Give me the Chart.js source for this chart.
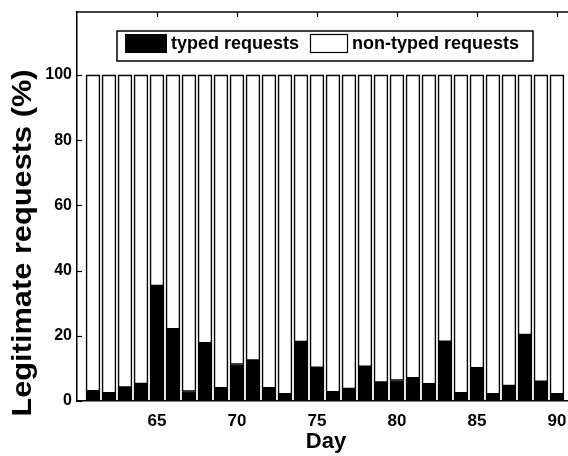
<!DOCTYPE html>
<html>
<head>
<meta charset="utf-8">
<script src="https://cdn.jsdelivr.net/npm/chart.js@4/dist/chart.umd.min.js"></script>
<style>
html,body{margin:0;padding:0;background:#fff;}
canvas{display:block;}
</style>
</head>
<body>
<canvas id="c" width="568" height="456"></canvas>
<script>
const days = [61,62,63,64,65,66,67,68,69,70,71,72,73,74,75,76,77,78,79,80,81,82,83,84,85,86,87,88,89,90];
const typed = [3.0,2.4,4.1,5.2,35.3,22.0,2.9,17.7,3.9,11.2,12.4,3.9,2.1,18.1,10.2,2.7,3.7,10.5,5.7,6.3,7.0,5.1,18.2,2.4,10.0,2.1,4.6,20.2,5.9,2.1];
const nonTyped = [97.0,97.6,95.9,94.8,64.7,78.0,97.1,82.3,96.1,88.8,87.6,96.1,97.9,81.9,89.8,97.3,96.3,89.5,94.3,93.7,93.0,94.9,81.8,97.6,90.0,97.9,95.4,79.8,94.1,97.9];
const xTicks = [65,70,75,80,85,90];
const yTicks = [0,20,40,60,80,100];
const seriesNames = ['typed requests','non-typed requests'];
const xTitle = 'Day';
const yTitle = 'Legitimate requests (%)';

const FONT = '"Liberation Sans", Arial, Helvetica, sans-serif';

const decor = {
  id: 'decor',
  afterDraw(chart) {
    const ctx = chart.ctx;
    const a = chart.chartArea;
    const xs = chart.scales.x, ys = chart.scales.y;
    ctx.save();
    ctx.strokeStyle = '#000';
    ctx.lineWidth = 1.5;
    ctx.beginPath();
    ctx.moveTo(a.left, a.top); ctx.lineTo(a.right, a.top);
    ctx.stroke();
    ctx.lineWidth = 1.2;
    xTicks.forEach(v => {
      const px = Math.round(xs.getPixelForValue(v)) + 0.5;
      ctx.beginPath();
      ctx.moveTo(px, a.top); ctx.lineTo(px, a.top + 5);
      ctx.moveTo(px, a.bottom); ctx.lineTo(px, a.bottom - 5);
      ctx.stroke();
    });
    yTicks.forEach(v => {
      const py = Math.round(ys.getPixelForValue(v)) + 0.5;
      ctx.beginPath();
      ctx.moveTo(a.left, py); ctx.lineTo(a.left + 5, py);
      ctx.stroke();
    });
    // legend
    const lx = 117, ly = 31, lw = 416, lh = 30;
    ctx.fillStyle = '#fff';
    ctx.fillRect(lx, ly, lw, lh);
    ctx.lineWidth = 1.5;
    ctx.strokeRect(lx, ly, lw, lh);
    ctx.fillStyle = '#000';
    ctx.fillRect(125, 34, 42, 19);
    ctx.lineWidth = 1.2;
    ctx.strokeRect(310.5, 34.5, 37, 18);
    ctx.font = 'bold 18px ' + FONT;
    ctx.textBaseline = 'middle';
    ctx.textAlign = 'left';
    ctx.fillText(chart.data.datasets[0].label, 171, 44);
    ctx.fillText(chart.data.datasets[1].label, 352, 44);
    // axis titles
    ctx.font = 'bold 22px ' + FONT;
    ctx.textAlign = 'center';
    ctx.textBaseline = 'alphabetic';
    ctx.fillText(xTitle, 326, 448);
    ctx.save();
    ctx.translate(31, 243);
    ctx.rotate(-Math.PI / 2);
    ctx.scale(1.14, 1);
    ctx.font = 'bold 27px ' + FONT;
    ctx.fillText(yTitle, 0, 0);
    ctx.restore();
    ctx.restore();
  }
};

new Chart(document.getElementById('c'), {
  type: 'bar',
  data: {
    datasets: [
      {
        label: seriesNames[0],
        data: days.map((d, i) => ({x: d, y: typed[i]})),
        backgroundColor: '#000',
        borderColor: '#000',
        borderWidth: 1,
        borderSkipped: false,
        barThickness: 14
      },
      {
        label: seriesNames[1],
        data: days.map((d, i) => ({x: d, y: nonTyped[i]})),
        backgroundColor: '#fff',
        borderColor: '#000',
        borderWidth: 1.6,
        borderSkipped: false,
        barThickness: 14
      }
    ]
  },
  plugins: [decor],
  options: {
    responsive: false,
    animation: false,
    devicePixelRatio: 1,
    layout: {padding: {left: 0, right: 0, top: 12, bottom: 0}},
    plugins: {legend: {display: false}, tooltip: {enabled: false}},
    scales: {
      x: {
        type: 'linear',
        stacked: true,
        min: 60,
        max: 90.69,
        offset: false,
        afterBuildTicks: s => { s.ticks = xTicks.map(v => ({value: v})); },
        afterFit: s => { s.height = 55; s.paddingRight = 0; s.paddingLeft = 0; },
        grid: {display: false, drawTicks: false},
        border: {display: true, color: '#000', width: 1.5},
        ticks: {color: '#000', font: {family: FONT, size: 17, weight: 'bold'}, padding: 10, maxRotation: 0, autoSkip: false}
      },
      y: {
        stacked: true,
        min: 0,
        max: 119.3,
        afterBuildTicks: s => { s.ticks = yTicks.map(v => ({value: v})); },
        afterFit: s => { s.width = 77; s.paddingTop = 0; s.paddingBottom = 0; },
        grid: {display: false, drawTicks: false},
        border: {display: true, color: '#000', width: 1.5},
        ticks: {color: '#000', font: {family: FONT, size: 16, weight: 'bold'}, padding: 5}
      }
    }
  }
});
</script>
</body>
</html>
